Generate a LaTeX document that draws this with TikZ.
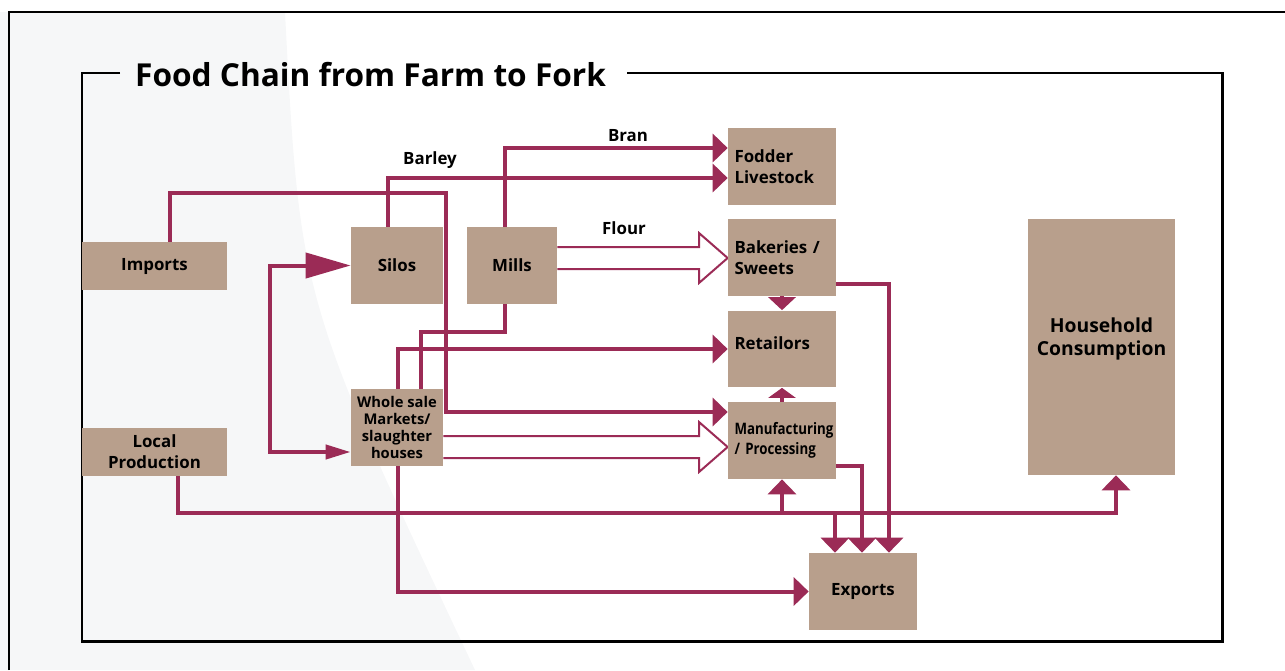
\documentclass[tikz,border=0pt]{standalone}
\usepackage{fontspec}
\setmainfont{Open Sans}
\usepackage{tikz}
\usetikzlibrary{
  arrows.meta,
  calc,
  positioning,
  backgrounds
}
\definecolor{chainred}{RGB}{155,43,86}
\definecolor{boxtan}{RGB}{184,159,140}
\definecolor{shadegray}{RGB}{246,247,248}
\newfontfamily\condfont[FakeStretch=0.84]{Open Sans}

\begin{document}
\begin{tikzpicture}[x=0.02cm, y=-0.02cm,
  box/.style={fill=boxtan, inner sep=0pt, align=center,
              font=\fontsize{9.6}{12}\selectfont\bfseries},
  lbox/.style={box, align=left, text width=1.9cm, inner xsep=0.13cm,
               minimum width=2.16cm, minimum height=1.54cm},
  flow/.style={draw=chainred, line width=0.08cm,
               -{Triangle[length=0.3cm, width=0.56cm]}},
  link/.style={draw=chainred, line width=0.08cm},
  hollow/.style={draw=chainred, line width=0.04cm, fill=white},
  lbl/.style={font=\fontsize{9.6}{12}\selectfont\bfseries},
  frame/.style={draw=black, line width=1.7pt}]

  \useasboundingbox (0,0) rectangle (1285,670);

  % faint backdrop
  \begin{scope}[on background layer]
    \fill[shadegray] (0,12) -- (285,12) .. controls (300,300) .. (475,670) -- (0,670) -- cycle;
  \end{scope}

  % frames and title
  \draw[line width=1.2pt] (9,670) -- (9,12) -- (1285,12);
  \node[font=\fontsize{18}{22}\selectfont\bfseries, anchor=west] (title) at (129,75)
    {Food Chain from Farm to Fork};
  \draw[frame] (120,73) -- (82,73) -- (82,641) -- (1222,641) -- (1222,73) -- (627,73);

  % sources and stages
  \node[box, minimum width=2.9cm, minimum height=0.96cm] (imports) at (154.5,266) {Imports};
  \node[box, minimum width=2.9cm, minimum height=0.96cm] (local) at (154.5,452)
    {Local\\Production};
  \node[box, minimum width=1.84cm, minimum height=1.54cm] (silos) at (397,265.5) {Silos};
  \node[box, minimum width=1.8cm, minimum height=1.54cm] (mills) at (512,265.5) {Mills};
  \node[box, minimum width=1.84cm, minimum height=1.54cm,
        font=\fontsize{8.4}{9.8}\selectfont\bfseries] (whole) at (397,427.5)
    {Whole sale\\Markets/\\slaughter\\houses};

  % destinations
  \node[lbox] (fodder) at (782,166.5) {Fodder\\Livestock};
  \node[lbox] (bakery) at (782,257.5) {Bakeries /\\Sweets};
  \node[lbox, text depth=0.24cm] (retail) at (782,349) {Retailors};
  \node[lbox, font=\fontsize{9}{11.5}\condfont\bfseries] (manuf) at (782,440.5)
    {Manufacturing\\/ Processing};
  \node[box, minimum width=2.16cm, minimum height=1.54cm] (exports) at (863,591.5) {Exports};
  \node[box, minimum width=2.94cm, minimum height=5.12cm, text depth=0.4cm,
        font=\fontsize{11}{13}\selectfont\bfseries] (house) at (1101.5,347)
    {Household\\Consumption};

  % labels
  \node[lbl] (barley) at (430,160) {Barley};
  \node[lbl] (bran) at (628,136) {Bran};
  \node[lbl] (flour) at (624,228) {Flour};

  \coordinate (jm) at (782,513);
  \coordinate (je) at (835,513);
  \coordinate (jh) at (1116,513);

  % connectors
  \begin{scope}[on background layer]
    \draw[flow] (imports.north -| 170,0) |- (446,193) |- (manuf.west |- 0,412);
    \draw[flow] (silos.north -| 388,0) |- (fodder.west |- 0,178);
    \draw[flow] (mills.north -| 505,0) |- (fodder.west |- 0,148);
    \draw[link] (mills.south -| 505,0) |- (421,332) -- (whole.north -| 421,0);
    \draw[flow] (whole.north -| 398,0) |- (retail.west);
    \draw[flow] (whole.south -| 398,0) |- (exports.west);
    \draw[link, {Triangle[length=0.9cm, width=0.5cm]}-{Triangle[length=0.5cm, width=0.28cm]}]
      (silos.west) -| (270,452) -- (whole.west |- 0,452);
    \draw[flow] (local.south -| 178,0) |- (jh) -- (house.south -| jh);
    \draw[flow] (jm) -- (manuf.south);
    \draw[flow] (je) -- (exports.north -| je);
    \draw[flow] (bakery.east |- 0,284) -| (exports.north -| 889,0);
    \draw[flow] (manuf.east |- 0,466) -| (exports.north -| 862,0);
    \draw[flow, -{Triangle[length=0.26cm, width=0.54cm]}] (bakery.south) -- (retail.north);
    \draw[flow, -{Triangle[length=0.2cm, width=0.54cm]}] (manuf.north) -- (retail.south);
    % wide open arrows
    \draw[hollow] (mills.east |- 0,247) -- (699,247) -- (699,233) -- (bakery.west |- 0,258)
      -- (699,283) -- (699,269) -- (mills.east |- 0,269);
    \draw[hollow] (whole.east |- 0,436) -- (699,436) -- (699,422) -- (manuf.west |- 0,447)
      -- (699,472) -- (699,458) -- (whole.east |- 0,458);
  \end{scope}

\end{tikzpicture}
\end{document}
